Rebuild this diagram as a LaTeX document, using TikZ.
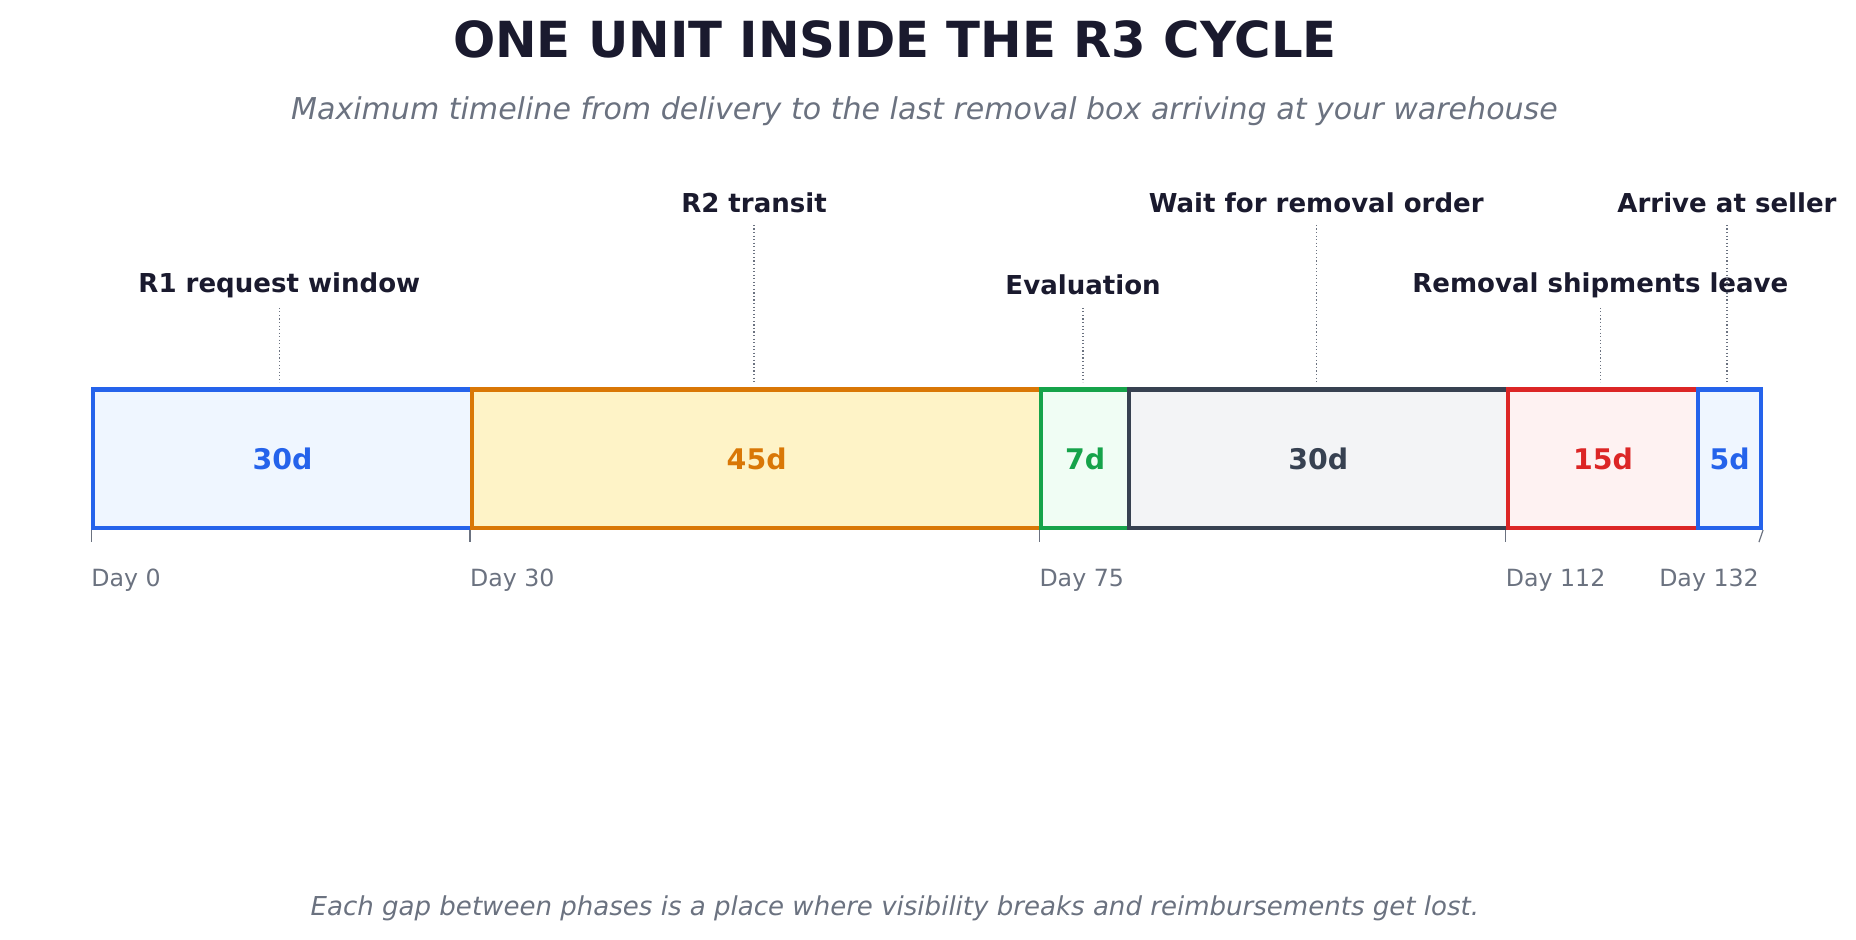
\documentclass[tikz,border=0pt]{standalone}
\usepackage{fontspec}
\setmainfont{DejaVu Sans}
\usepackage{tikz}
\usetikzlibrary{positioning}
\definecolor{ink}{HTML}{1A1A2E}
\definecolor{muted}{HTML}{6B7280}
\definecolor{cblue}{HTML}{2563EB}
\definecolor{fblue}{HTML}{EFF6FF}
\definecolor{corange}{HTML}{D97706}
\definecolor{forange}{HTML}{FEF3C7}
\definecolor{cgreen}{HTML}{16A34A}
\definecolor{fgreen}{HTML}{F0FDF4}
\definecolor{cslate}{HTML}{374151}
\definecolor{fslate}{HTML}{F3F4F6}
\definecolor{cred}{HTML}{DC2626}
\definecolor{fred}{HTML}{FEF2F2}
\tikzset{
  phase/.style={draw=#1, line width=3.5pt, minimum height=117pt, inner sep=0pt, anchor=west,
    text=#1, font=\fontsize{24}{28}\selectfont\bfseries},
  phaselabel/.style={text=ink, font=\fontsize{22}{26}\selectfont\bfseries, inner sep=2pt},
  daylabel/.style={text=muted, font=\fontsize{20}{24}\selectfont, inner sep=0pt},
  leader/.style={muted, dotted, line width=1pt},
  tick/.style={muted, line width=1pt}
}
\begin{document}
\begin{tikzpicture}[x=1pt,y=-1pt]
	\useasboundingbox (0,0) rectangle (1568,794);
	\node[text=ink, font=\fontsize{42}{48}\selectfont\bfseries] (title) at (756,33) {ONE UNIT INSIDE THE R3 CYCLE};
	\node[text=muted, font=\fontsize{25.4}{30}\selectfont\itshape] (subtitle) at (781,94) {Maximum timeline from delivery to the last removal box arriving at your warehouse};
	% phase boxes
	\node[phase=cblue, fill=fblue, minimum width=320pt] (p1) at (77,387.5) {30d};
	\node[phase=corange, fill=forange, minimum width=481pt] (p2) at (397,387.5) {45d};
	\node[phase=cgreen, fill=fgreen, minimum width=74pt] (p3) at (878,387.5) {7d};
	\node[phase=cslate, fill=fslate, minimum width=320pt] (p4) at (952,387.5) {30d};
	\node[phase=cred, fill=fred, minimum width=161pt] (p5) at (1272,387.5) {15d};
	\node[phase=cblue, fill=fblue, minimum width=53pt] (p6) at (1433,387.5) {5d};
	% labels above
	\node[phaselabel] (l1) at (236,241) {R1 request window};
	\node[phaselabel] (l2) at (637,171) {R2 transit};
	\node[phaselabel] (l3) at (915,241) {Evaluation};
	\node[phaselabel] (l4) at (1112,171) {Wait for removal order};
	\node[phaselabel] (l5) at (1352,241) {Removal shipments leave};
	\node[phaselabel] (l6) at (1459,171) {Arrive at seller};
	\draw[leader] (l1.south |- 0,260) -- (l1.south |- 0,323);
	\draw[leader] (l2.south |- 0,190) -- (l2.south |- 0,323);
	\draw[leader] (l3.south |- 0,260) -- (l3.south |- 0,323);
	\draw[leader] (l4.south |- 0,190) -- (l4.south |- 0,323);
	\draw[leader] (l5.south |- 0,260) -- (l5.south |- 0,323);
	\draw[leader] (l6.south |- 0,190) -- (l6.south |- 0,323);
	% day axis
	\coordinate (t0) at (77,458);
	\coordinate (t1) at (397,458);
	\coordinate (t2) at (878,458);
	\coordinate (t3) at (1272,458);
	\coordinate (t4) at (1486,458);
	\draw[tick] (p1.south west) -- (t0);
	\draw[tick] (p2.south west) -- (t1);
	\draw[tick] (p3.south west) -- (t2);
	\draw[tick] (p5.south west) -- (t3);
	\draw[tick] (p6.south east) -- (t4);
	\node[daylabel, anchor=west] (d0) at (77,490) {Day 0};
	\node[daylabel, anchor=west] (d1) at (397,490) {Day 30};
	\node[daylabel, anchor=west] (d2) at (878,490) {Day 75};
	\node[daylabel, anchor=west] (d3) at (1272,490) {Day 112};
	\node[daylabel, anchor=east] (d4) at (1486,490) {Day 132};
	\node[text=muted, font=\fontsize{22}{26}\selectfont\itshape] (footer) at (756,767) {Each gap between phases is a place where visibility breaks and reimbursements get lost.};
\end{tikzpicture}
\end{document}
